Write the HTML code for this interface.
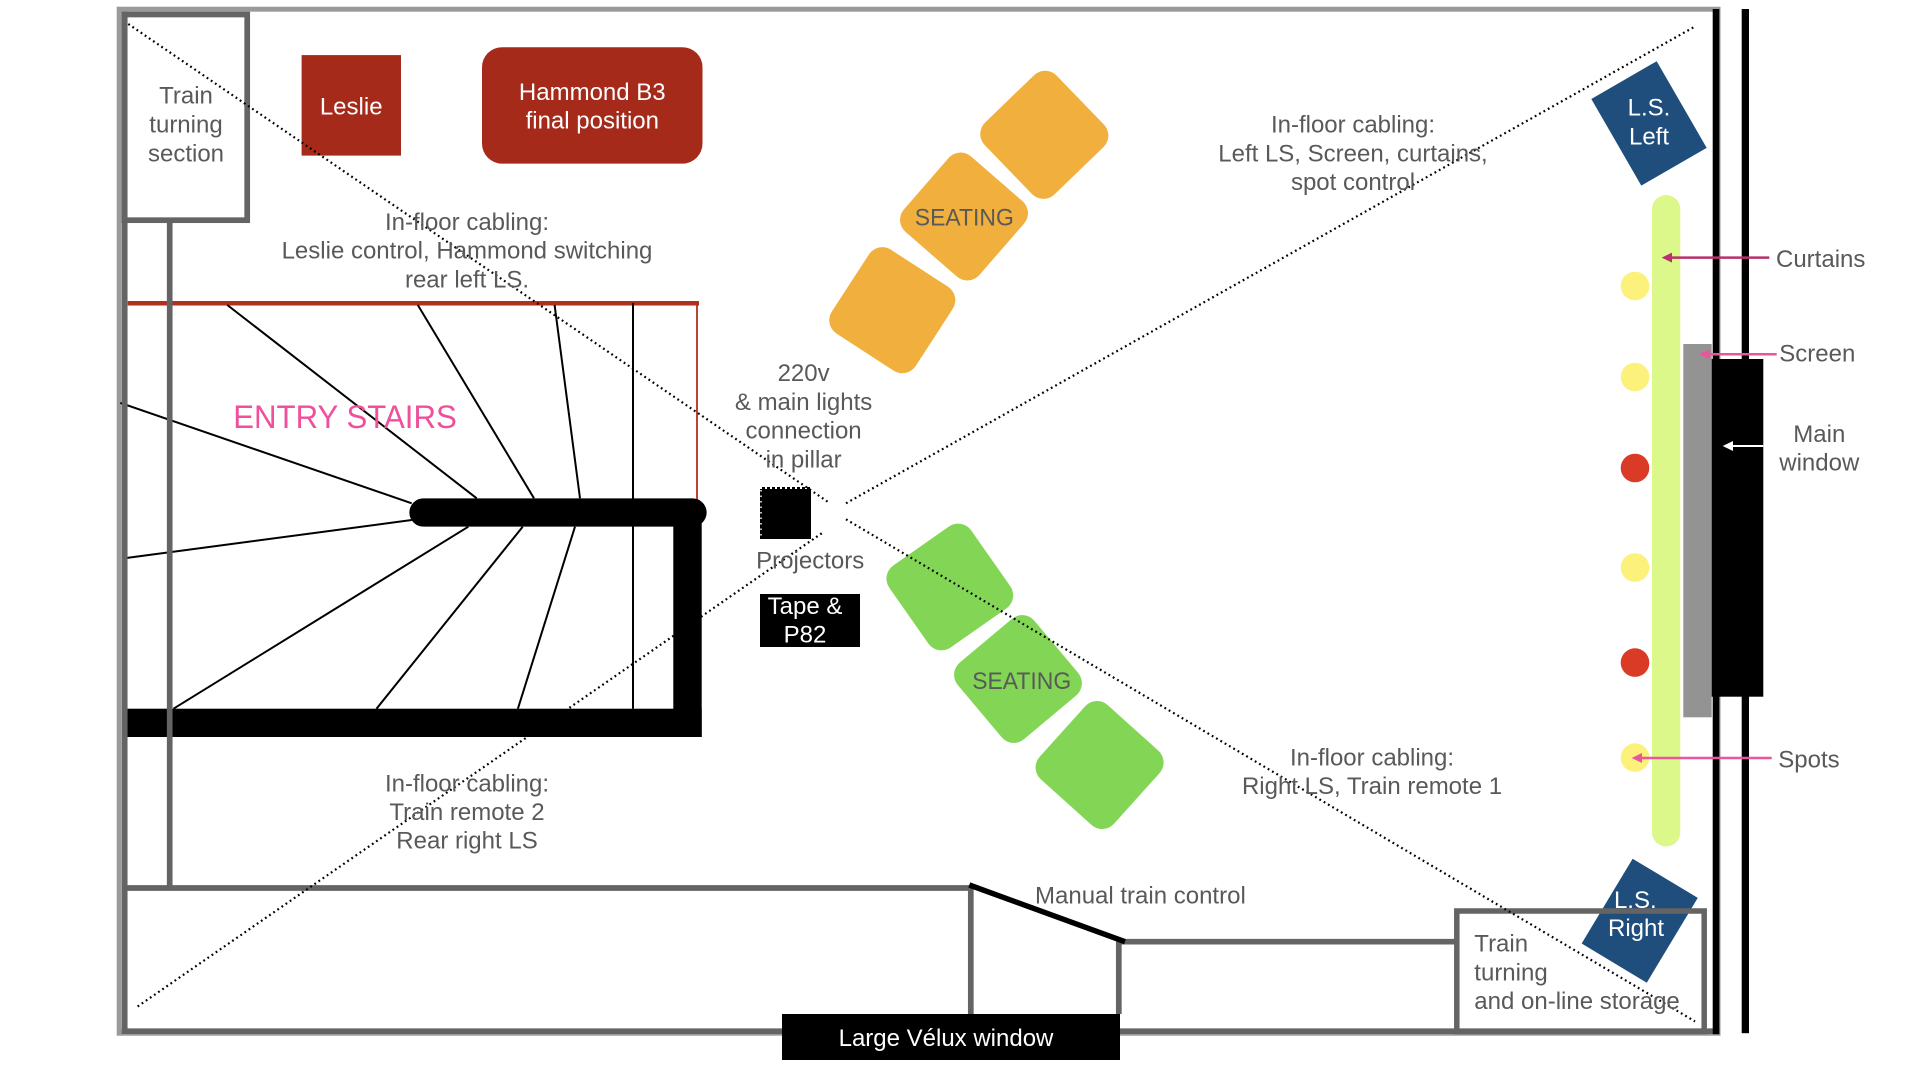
<!DOCTYPE html>
<html>
<head>
<meta charset="utf-8">
<style>
html,body{margin:0;padding:0;background:#fff;}
svg{display:block;}
text{font-family:"Liberation Sans",Arial,sans-serif;}
</style>
</head>
<body>
<svg width="1920" height="1080" viewBox="0 0 1920 1080" xmlns="http://www.w3.org/2000/svg">
<rect x="0" y="0" width="1920" height="1080" fill="#ffffff"/>

<!-- Outer light gray frame -->
<rect x="119.2" y="9.2" width="1598.8" height="1024" fill="none" stroke="#9a9a9a" stroke-width="5"/>

<!-- Leslie & Hammond -->
<rect x="301.6" y="55.1" width="99.4" height="100.5" fill="#a52a1a"/>
<rect x="482" y="47.2" width="220.5" height="116.4" rx="20" ry="20" fill="#a52a1a"/>

<!-- Stairs -->
<line x1="127.7" y1="303.2" x2="699" y2="303.2" stroke="#b22f1c" stroke-width="4.5"/>
<line x1="697" y1="303" x2="697" y2="500" stroke="#b22f1c" stroke-width="1.8"/>
<g stroke="#000" stroke-width="2">
<line x1="227.3" y1="305" x2="476.7" y2="498.3"/>
<line x1="417.8" y1="305" x2="534" y2="498.3"/>
<line x1="554.6" y1="305" x2="580" y2="498.3"/>
<line x1="633" y1="303" x2="633" y2="708.7"/>
<line x1="120.3" y1="402.9" x2="411.7" y2="503.3"/>
<line x1="127.2" y1="557.9" x2="411.7" y2="520"/>
<line x1="468.3" y1="526.7" x2="173.5" y2="708.7"/>
<line x1="522.7" y1="526.7" x2="376.5" y2="708.7"/>
<line x1="575" y1="526.7" x2="517.9" y2="708.7"/>
</g>
<line x1="423.5" y1="512.5" x2="692.5" y2="512.5" stroke="#000" stroke-width="28.3" stroke-linecap="round"/>
<rect x="673.3" y="512.5" width="28.4" height="224.5" fill="#000"/>
<rect x="124" y="708.7" width="577.7" height="28.3" fill="#000"/>

<!-- Dark gray walls -->
<g stroke="#646464" stroke-width="5.7" fill="none">
<line x1="124.7" y1="11.7" x2="124.7" y2="1034"/>
<rect x="124.5" y="14.5" width="122.7" height="205.7"/>
<line x1="169.7" y1="220" x2="169.7" y2="888"/>
<line x1="124.7" y1="888" x2="973" y2="888"/>
<line x1="970.8" y1="885" x2="970.8" y2="1014"/>
<line x1="1118.8" y1="941.7" x2="1118.8" y2="1014"/>
<line x1="1116" y1="941.7" x2="1456.8" y2="941.7"/>
<line x1="121.7" y1="1031.2" x2="1719.3" y2="1031.2"/>
</g>
<line x1="969.3" y1="885" x2="1125" y2="941.7" stroke="#000" stroke-width="5.5"/>
<rect x="782" y="1014" width="338" height="46" fill="#000"/>

<!-- Seating orange -->
<g fill="#f1b03e">
<rect x="-50" y="-50" width="100" height="100" rx="16" ry="16" transform="translate(1044.3 134.8) rotate(46)"/>
<rect x="-50" y="-50" width="100" height="100" rx="16" ry="16" transform="translate(964 216.5) rotate(41)"/>
<rect x="-50" y="-50" width="100" height="100" rx="16" ry="16" transform="translate(892.3 310.2) rotate(33)"/>
</g>
<!-- Seating green -->
<g fill="#83d655">
<rect x="-50" y="-50" width="100" height="100" rx="16" ry="16" transform="translate(949.8 587) rotate(55)"/>
<rect x="-50" y="-50" width="100" height="100" rx="16" ry="16" transform="translate(1018 679) rotate(50)"/>
<rect x="-50" y="-50" width="100" height="100" rx="16" ry="16" transform="translate(1099.6 765) rotate(42)"/>
</g>

<!-- Projector -->
<rect x="760" y="487" width="51" height="52" fill="#000"/>
<line x1="760" y1="488" x2="811" y2="488" stroke="#fff" stroke-width="2" stroke-dasharray="2 3"/>
<line x1="761" y1="490" x2="761" y2="537" stroke="#fff" stroke-width="1.5" stroke-dasharray="1.5 4"/>
<!-- Tape box -->
<rect x="760" y="594" width="100" height="53" fill="#000"/>

<!-- Right side: LS Right (under box) -->
<rect x="-38" y="-49.5" width="76" height="99" fill="#1f4e7c" transform="translate(1639.7 920.7) rotate(31)"/>
<!-- Right box -->
<rect x="1456.8" y="911" width="247.4" height="120.5" fill="none" stroke="#646464" stroke-width="5.5"/>

<!-- LS Left -->
<rect x="-37.75" y="-50" width="75.5" height="100" fill="#1f4e7c" transform="translate(1649 123.4) rotate(-30)"/>

<!-- Curtains bar -->
<rect x="1652" y="195" width="28.3" height="651.5" rx="14.15" ry="14.15" fill="#dcf88a"/>
<!-- Screen -->
<rect x="1683.3" y="344" width="28.4" height="373.3" fill="#939393"/>
<!-- Walls black -->
<rect x="1712.7" y="9" width="6.6" height="1025.2" fill="#000"/>
<rect x="1741.7" y="9" width="7.3" height="1024.2" fill="#000"/>
<rect x="1711.7" y="359" width="51.6" height="337.7" fill="#000"/>

<!-- Spots -->
<circle cx="1635" cy="286" r="14.3" fill="#fcf17a"/>
<circle cx="1635" cy="377" r="14.3" fill="#fcf17a"/>
<circle cx="1635" cy="468" r="14.3" fill="#d93b26"/>
<circle cx="1635" cy="567.5" r="14.3" fill="#fcf17a"/>
<circle cx="1635" cy="662.6" r="14.3" fill="#d93b26"/>
<circle cx="1635" cy="757.6" r="14.3" fill="#fcf17a"/>

<!-- Arrows -->
<line x1="1769.3" y1="257.6" x2="1670" y2="257.6" stroke="#b8306c" stroke-width="2.5"/>
<polygon points="1661.7,257.6 1672,252.6 1672,262.6" fill="#b8306c"/>
<line x1="1776.7" y1="354.3" x2="1707" y2="354.3" stroke="#e9569d" stroke-width="2.5"/>
<polygon points="1699.3,354.3 1709.5,349.3 1709.5,359.3" fill="#e9569d"/>
<line x1="1763.3" y1="446" x2="1731" y2="446" stroke="#fff" stroke-width="2"/>
<polygon points="1722.7,446 1733,441 1733,451" fill="#fff"/>
<line x1="1771.7" y1="758" x2="1640" y2="758" stroke="#e9569d" stroke-width="2.5"/>
<polygon points="1631.7,758 1642,753 1642,763" fill="#e9569d"/>

<!-- Dotted lines -->
<g stroke="#000" stroke-width="2.2" stroke-dasharray="1.8 3.2" fill="none">
<line x1="128.3" y1="24" x2="830" y2="503.3"/>
<line x1="846" y1="503.3" x2="1695" y2="26.5"/>
<line x1="846" y1="519.3" x2="1695" y2="1021.4"/>
<line x1="821.7" y1="533.3" x2="135" y2="1008.3"/>
</g>

<!-- Texts gray -->
<g fill="#595959" font-size="24">
<text x="186" y="103.3" text-anchor="middle">Train</text>
<text x="186" y="132.5" text-anchor="middle">turning</text>
<text x="186" y="161.5" text-anchor="middle">section</text>

<text x="467" y="229.8" text-anchor="middle">In-floor cabling:</text>
<text x="467" y="258.6" text-anchor="middle">Leslie control, Hammond switching</text>
<text x="467" y="287.4" text-anchor="middle">rear left LS.</text>

<text x="803.6" y="381" text-anchor="middle">220v</text>
<text x="803.6" y="409.8" text-anchor="middle">&amp; main lights</text>
<text x="803.6" y="438.6" text-anchor="middle">connection</text>
<text x="803.6" y="467.4" text-anchor="middle">in pillar</text>

<text x="810.2" y="568.5" text-anchor="middle">Projectors</text>

<text x="964.3" y="225.5" text-anchor="middle" textLength="99" lengthAdjust="spacingAndGlyphs">SEATING</text>
<text x="1021.7" y="688.8" text-anchor="middle" textLength="99" lengthAdjust="spacingAndGlyphs">SEATING</text>

<text x="1353" y="132.6" text-anchor="middle">In-floor cabling:</text>
<text x="1353" y="161.3" text-anchor="middle">Left LS, Screen, curtains,</text>
<text x="1353" y="190" text-anchor="middle">spot control</text>

<text x="1372" y="765.5" text-anchor="middle">In-floor cabling:</text>
<text x="1372" y="794.2" text-anchor="middle">Right LS, Train remote 1</text>

<text x="467" y="791.4" text-anchor="middle">In-floor cabling:</text>
<text x="467" y="820" text-anchor="middle">Train remote 2</text>
<text x="467" y="848.6" text-anchor="middle">Rear right LS</text>

<text x="1035" y="903.3">Manual train control</text>

<text x="1474.3" y="951.5">Train</text>
<text x="1474.3" y="980.3">turning</text>
<text x="1474.3" y="1009.1">and on-line storage</text>

<text x="1776" y="266.9">Curtains</text>
<text x="1779.3" y="361.5">Screen</text>
<text x="1819.3" y="441.8" text-anchor="middle">Main</text>
<text x="1819.3" y="470.4" text-anchor="middle">window</text>
<text x="1778.3" y="767.3">Spots</text>
</g>

<text x="233.2" y="428" font-size="32" fill="#ef4f9b" textLength="223.6" lengthAdjust="spacingAndGlyphs">ENTRY STAIRS</text>

<!-- White texts -->
<g fill="#ffffff" font-size="24">
<text x="351.2" y="114.7" text-anchor="middle">Leslie</text>
<text x="592.3" y="99.9" text-anchor="middle">Hammond B3</text>
<text x="592.3" y="128.6" text-anchor="middle">final position</text>
<text x="805" y="614" text-anchor="middle">Tape &amp;</text>
<text x="805" y="642.6" text-anchor="middle">P82</text>
<text x="946" y="1046" text-anchor="middle">Large Vélux window</text>
<text x="1649" y="115.4" text-anchor="middle">L.S.</text>
<text x="1649" y="144.6" text-anchor="middle">Left</text>
<text x="1635.3" y="907.8" text-anchor="middle">L.S.</text>
<text x="1636" y="936" text-anchor="middle">Right</text>
</g>
</svg>
</body>
</html>
